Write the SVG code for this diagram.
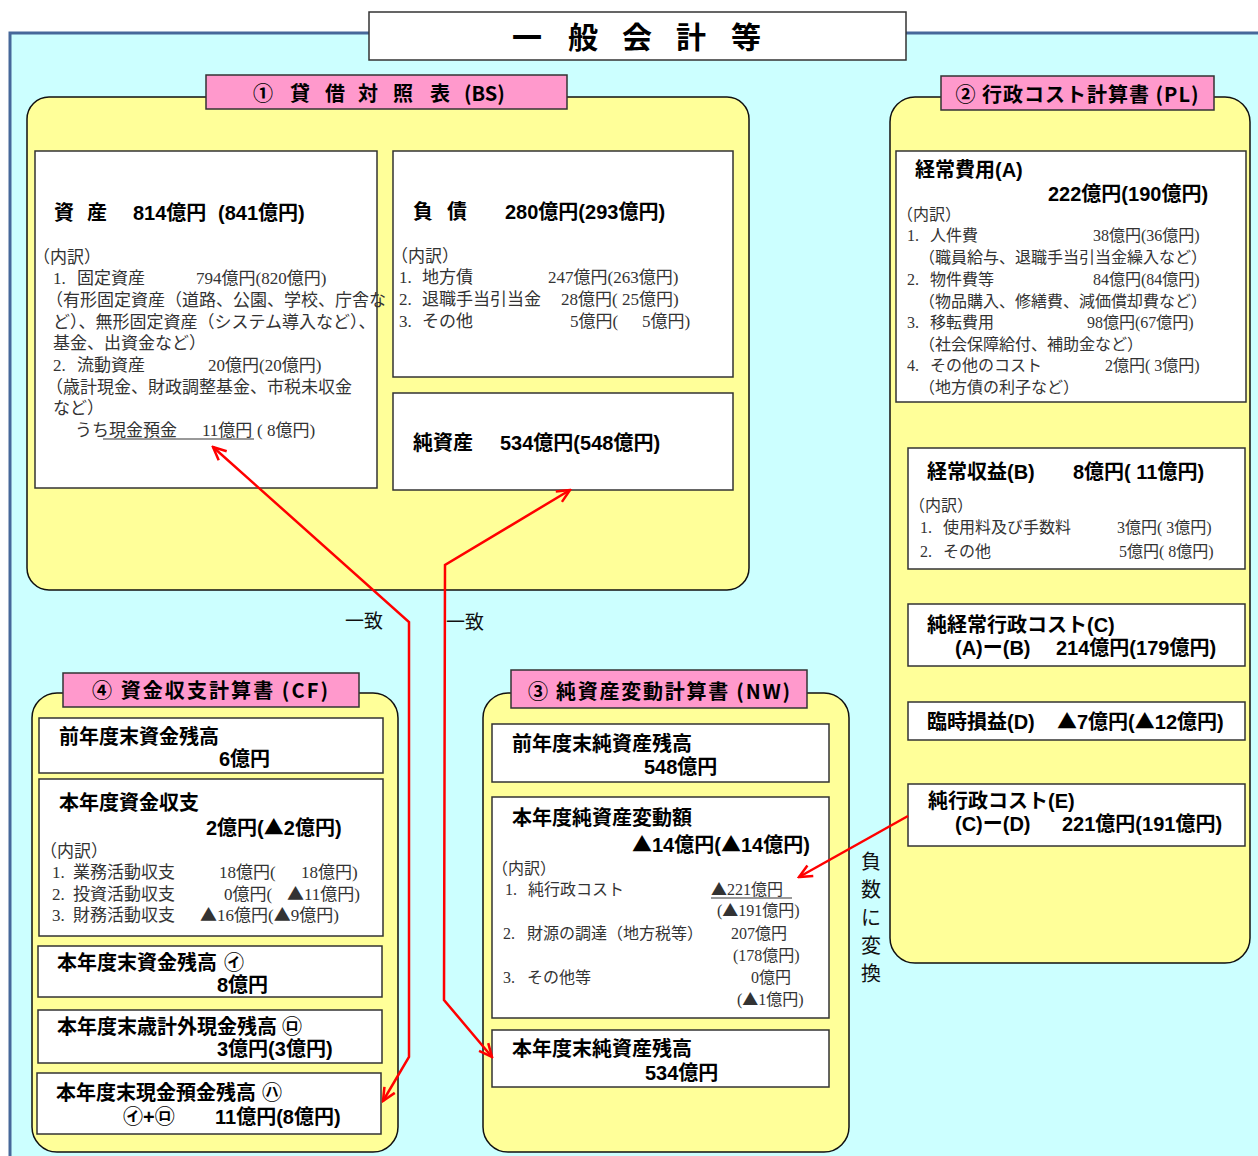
<svg xmlns="http://www.w3.org/2000/svg" width="1258" height="1156" viewBox="0 0 1258 1156">
<defs>
<style>
.panel{fill:#FFFF99;stroke:#111;stroke-width:1.5}
.box{fill:#fff;stroke:#333;stroke-width:1.5}
.lbl{fill:#FF99CC;stroke:#333;stroke-width:1.5}
.h{font-family:"Liberation Sans","Noto Sans CJK JP",sans-serif;font-weight:700;font-size:20px;fill:#000}
.lt{font-family:"Noto Sans CJK JP","Liberation Sans",sans-serif;font-weight:700;font-size:20px;fill:#000}
.b{font-family:"Liberation Serif","Noto Sans CJK JP",serif;font-size:17px;fill:#333}
.s{font-size:16px}
.tri{font-family:"Noto Sans CJK JP",sans-serif}
.n{font-family:"Noto Sans CJK JP",sans-serif;font-size:19px;fill:#111}
.conn{stroke:#FF0000;stroke-width:2.5;fill:none;stroke-linejoin:miter}
.ul{stroke:#777;stroke-width:1.5}
</style>
<marker id="ah" viewBox="0 0 16 16" refX="14" refY="8" markerWidth="16" markerHeight="16" markerUnits="userSpaceOnUse" orient="auto-start-reverse">
<path d="M1,2 L14,8 L1,14" fill="none" stroke="#FF0000" stroke-width="2.5"/>
</marker>
</defs>

<rect x="10" y="33" width="1262" height="1140" fill="#CCFFFF" stroke="#46689A" stroke-width="3"/>

<g id="title">
<rect x="369" y="12" width="537" height="48" fill="#fff" stroke="#333" stroke-width="1.5"/>
<text class="lt" style="font-size:30px" y="48"><tspan x="512">一</tspan><tspan x="568">般</tspan><tspan x="622">会</tspan><tspan x="676">計</tspan><tspan x="731">等</tspan></text>
</g>

<g id="bs">
<rect class="panel" x="27" y="97" width="722" height="493" rx="22"/>
<rect class="lbl" x="206" y="75" width="361" height="34"/>
<text class="lt" y="101"><tspan x="253">①</tspan><tspan x="290">貸</tspan><tspan x="325">借</tspan><tspan x="358">対</tspan><tspan x="393">照</tspan><tspan x="430">表</tspan><tspan x="464">(BS)</tspan></text>
</g>

<g id="bs-assets">
<rect class="box" x="35" y="151" width="342" height="337"/>
<text class="h" y="220"><tspan x="54">資</tspan><tspan x="87">産</tspan><tspan x="133">814億円</tspan><tspan x="218">(841億円)</tspan></text>
<text class="b" x="33" y="263">（内訳）</text>
<text class="b" y="284"><tspan x="53">1.</tspan><tspan x="77">固定資産</tspan><tspan x="196">794億円(820億円)</tspan></text>
<text class="b" x="46" y="306">（有形固定資産（道路、公園、学校、庁舎な</text>
<text class="b" x="53" y="328">ど）、無形固定資産（システム導入など）、</text>
<text class="b" x="53" y="349">基金、出資金など）</text>
<text class="b" y="371"><tspan x="53">2.</tspan><tspan x="77">流動資産</tspan><tspan x="208">20億円(20億円)</tspan></text>
<text class="b" x="46" y="393">（歳計現金、財政調整基金、市税未収金</text>
<text class="b" x="53" y="414">など）</text>
<text class="b" y="436"><tspan x="75">うち現金預金</tspan><tspan x="202">11億円</tspan><tspan x="257">( 8億円)</tspan></text>
<line class="ul" x1="103" y1="439" x2="254" y2="439"/>
</g>

<g id="bs-liabilities">
<rect class="box" x="393" y="151" width="340" height="226"/>
<text class="h" y="219"><tspan x="413">負</tspan><tspan x="447">債</tspan><tspan x="505">280億円(293億円)</tspan></text>
<text class="b" x="391" y="262">（内訳）</text>
<text class="b" y="283"><tspan x="399">1.</tspan><tspan x="422">地方債</tspan><tspan x="548">247億円(263億円)</tspan></text>
<text class="b" y="305"><tspan x="399">2.</tspan><tspan x="422">退職手当引当金</tspan><tspan x="561">28億円( 25億円)</tspan></text>
<text class="b" y="327"><tspan x="399">3.</tspan><tspan x="422">その他</tspan><tspan x="570">5億円(</tspan><tspan x="642">5億円)</tspan></text>
</g>

<g id="bs-netassets">
<rect class="box" x="393" y="393" width="340" height="97"/>
<text class="h" y="450"><tspan x="413">純資産</tspan><tspan x="500">534億円(548億円)</tspan></text>
</g>

<g id="pl">
<rect class="panel" x="890" y="97" width="360" height="866" rx="25"/>
<rect class="lbl" x="941" y="76" width="273" height="34"/>
<text class="lt" x="1077" y="102" text-anchor="middle" textLength="243">② 行政コスト計算書 (PL)</text>
</g>

<g id="pl-a">
<rect class="box" x="896" y="151" width="350" height="251"/>
<text class="h" x="915" y="177">経常費用(A)</text>
<text class="h" x="1048" y="201">222億円(190億円)</text>
<text class="b s" x="897" y="220">（内訳）</text>
<text class="b s" y="241"><tspan x="907">1.</tspan><tspan x="930">人件費</tspan><tspan x="1093">38億円(36億円)</tspan></text>
<text class="b s" x="919" y="263">（職員給与、退職手当引当金繰入など）</text>
<text class="b s" y="285"><tspan x="907">2.</tspan><tspan x="930">物件費等</tspan><tspan x="1093">84億円(84億円)</tspan></text>
<text class="b s" x="919" y="307">（物品購入、修繕費、減価償却費など）</text>
<text class="b s" y="328"><tspan x="907">3.</tspan><tspan x="930">移転費用</tspan><tspan x="1087">98億円(67億円)</tspan></text>
<text class="b s" x="919" y="350">（社会保障給付、補助金など）</text>
<text class="b s" y="371"><tspan x="907">4.</tspan><tspan x="930">その他のコスト</tspan><tspan x="1105">2億円( 3億円)</tspan></text>
<text class="b s" x="919" y="393">（地方債の利子など）</text>
</g>

<g id="pl-b">
<rect class="box" x="908" y="448" width="337" height="121"/>
<text class="h" y="479"><tspan x="927">経常収益(B)</tspan><tspan x="1073">8億円( 11億円)</tspan></text>
<text class="b s" x="909" y="511">（内訳）</text>
<text class="b s" y="533"><tspan x="920">1.</tspan><tspan x="943">使用料及び手数料</tspan><tspan x="1117">3億円( 3億円)</tspan></text>
<text class="b s" y="557"><tspan x="920">2.</tspan><tspan x="943">その他</tspan><tspan x="1119">5億円( 8億円)</tspan></text>
</g>

<g id="pl-c">
<rect class="box" x="908" y="604" width="337" height="62"/>
<text class="h" x="927" y="632">純経常行政コスト(C)</text>
<text class="h" y="655"><tspan x="955">(A)ー(B)</tspan><tspan x="1056">214億円(179億円)</tspan></text>
</g>

<g id="pl-d">
<rect class="box" x="908" y="702" width="337" height="38"/>
<text class="h" y="729"><tspan x="927">臨時損益(D)</tspan><tspan x="1057" class="tri">▲</tspan>7億円(<tspan class="tri">▲</tspan>12億円)</text>
</g>

<g id="pl-e">
<rect class="box" x="908" y="784" width="337" height="62"/>
<text class="h" x="928" y="808">純行政コスト(E)</text>
<text class="h" y="831"><tspan x="955">(C)ー(D)</tspan><tspan x="1062">221億円(191億円)</tspan></text>
</g>

<g id="cf">
<rect class="panel" x="32" y="693" width="366" height="459" rx="25"/>
<rect class="lbl" x="63" y="673" width="296" height="34"/>
<text class="lt" x="210" y="698" text-anchor="middle" textLength="236">④ 資金収支計算書 (CF)</text>
</g>

<g id="cf-1">
<rect class="box" x="39" y="718" width="344" height="55"/>
<text class="h" x="59" y="744">前年度末資金残高</text>
<text class="h" x="219" y="766">6億円</text>
</g>

<g id="cf-2">
<rect class="box" x="39" y="779" width="344" height="157"/>
<text class="h" x="59" y="810">本年度資金収支</text>
<text class="h" x="206" y="835">2億円(<tspan class="tri">▲</tspan>2億円)</text>
<text class="b" x="40" y="857">（内訳）</text>
<text class="b" y="878"><tspan x="52">1.</tspan><tspan x="73">業務活動収支</tspan><tspan x="219">18億円(</tspan><tspan x="301">18億円)</tspan></text>
<text class="b" y="900"><tspan x="52">2.</tspan><tspan x="73">投資活動収支</tspan><tspan x="224">0億円(</tspan><tspan x="287" class="tri">▲</tspan>11億円)</text>
<text class="b" y="921"><tspan x="52">3.</tspan><tspan x="73">財務活動収支</tspan><tspan x="200" class="tri">▲</tspan>16億円(<tspan class="tri">▲</tspan>9億円)</text>
</g>

<g id="cf-3">
<rect class="box" x="38" y="946" width="344" height="51"/>
<text class="h" y="970"><tspan x="57">本年度末資金残高</tspan><tspan x="224">㋑</tspan></text>
<text class="h" x="217" y="992">8億円</text>
</g>

<g id="cf-4">
<rect class="box" x="38" y="1010" width="344" height="53"/>
<text class="h" y="1034"><tspan x="57">本年度末歳計外現金残高</tspan><tspan x="282">㋺</tspan></text>
<text class="h" x="217" y="1056">3億円(3億円)</text>
</g>

<g id="cf-5">
<rect class="box" x="37" y="1073" width="344" height="61"/>
<text class="h" y="1100"><tspan x="56">本年度末現金預金残高</tspan><tspan x="262">㋩</tspan></text>
<text class="h" y="1124"><tspan x="123">㋑+㋺</tspan><tspan x="215">11億円(8億円)</tspan></text>
</g>

<g id="nw">
<rect class="panel" x="483" y="693" width="366" height="459" rx="25"/>
<rect class="lbl" x="511" y="670" width="296" height="38"/>
<text class="lt" x="659" y="699" text-anchor="middle" textLength="262">③ 純資産変動計算書 (NW)</text>
</g>

<g id="nw-1">
<rect class="box" x="492" y="724" width="337" height="58"/>
<text class="h" x="512" y="751">前年度末純資産残高</text>
<text class="h" x="644" y="774">548億円</text>
</g>

<g id="nw-2">
<rect class="box" x="492" y="797" width="337" height="221"/>
<text class="h" x="512" y="825">本年度純資産変動額</text>
<text class="h" y="852"><tspan x="632" class="tri">▲</tspan>14億円(<tspan class="tri">▲</tspan>14億円)</text>
<text class="b s" x="492" y="874">（内訳）</text>
<text class="b s" y="895"><tspan x="505">1.</tspan><tspan x="528">純行政コスト</tspan><tspan x="711" class="tri">▲</tspan>221億円</text>
<line class="ul" x1="711" y1="898" x2="792" y2="898"/>
<text class="b s" x="717" y="916">(<tspan class="tri">▲</tspan>191億円)</text>
<text class="b s" y="939"><tspan x="503">2.</tspan><tspan x="527">財源の調達（地方税等）</tspan><tspan x="731">207億円</tspan></text>
<text class="b s" x="733" y="961">(178億円)</text>
<text class="b s" y="983"><tspan x="503">3.</tspan><tspan x="527">その他等</tspan><tspan x="751">0億円</tspan></text>
<text class="b s" x="737" y="1005">(<tspan class="tri">▲</tspan>1億円)</text>
</g>

<g id="nw-3">
<rect class="box" x="492" y="1030" width="337" height="57"/>
<text class="h" x="512" y="1056">本年度末純資産残高</text>
<text class="h" x="645" y="1080">534億円</text>
</g>

<g id="connectors">
<path class="conn" d="M213,447 L409,622 L409,1057 L383,1101" marker-start="url(#ah)" marker-end="url(#ah)"/>
<path class="conn" d="M570,490 L445,565 L444,1000 L492,1057" marker-start="url(#ah)" marker-end="url(#ah)"/>
<path class="conn" d="M908,816 L799,877" marker-end="url(#ah)"/>
<text class="n" x="345" y="628">一致</text>
<text class="n" x="446" y="629">一致</text>
<text class="n" text-anchor="middle" style="font-size:20px"><tspan x="871" y="869">負</tspan><tspan x="871" y="897">数</tspan><tspan x="871" y="925">に</tspan><tspan x="871" y="953">変</tspan><tspan x="871" y="981">換</tspan></text>
</g>
</svg>
